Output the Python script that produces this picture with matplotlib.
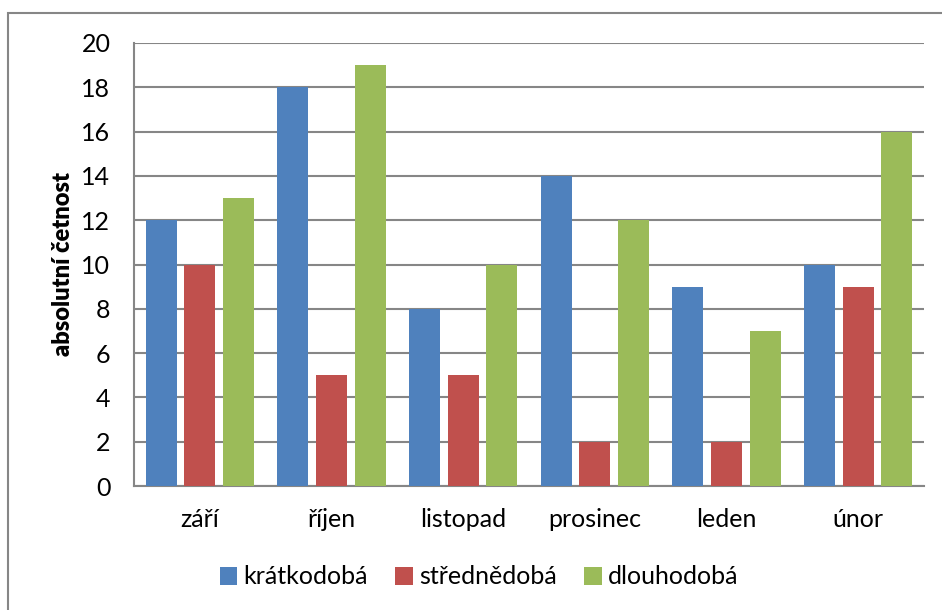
import numpy as np
import matplotlib.pyplot as plt
from matplotlib.patches import Rectangle

plt.rcParams['font.family'] = ['Lato', 'DejaVu Sans']

# monthly counts for each duration type
months = ['září', 'říjen', 'listopad', 'prosinec', 'leden', 'únor']
kratkodoba = [12, 18, 8, 14, 9, 10]
strednedoba = [10, 5, 5, 2, 2, 9]
dlouhodoba = [13, 19, 10, 12, 7, 16]
series_names = ['krátkodobá', 'střednědobá', 'dlouhodobá']
colors = ['#4F81BD', '#C0504D', '#9BBB59']

fig = plt.figure(figsize=(9.42, 6.1), dpi=100)
ax = fig.add_axes([134 / 942, 1 - 486 / 610, (924 - 134) / 942, (486 - 43) / 610])

# outer chart frame (runs off the right/bottom edge)
fig.patches.append(Rectangle((8 / 942, -0.2), 1.2, (610 - 13) / 610 + 0.2,
                             transform=fig.transFigure, fill=False,
                             edgecolor='#868686', linewidth=1.5, zorder=0))

x = np.arange(len(months))
w = 1 / 4.25          # gap width 75 %, overlap -25 %
step = 1.25 * w
for i, (vals, name) in enumerate(zip([kratkodoba, strednedoba, dlouhodoba], series_names)):
    ax.bar(x + (i - 1) * step, vals, width=w, color=colors[i], label=name, zorder=3)

ax.set_xlim(-0.5, len(months) - 0.5)
ax.set_ylim(0, 20)
ax.set_yticks(range(0, 21, 2))
ax.set_xticks(x)
ax.set_xticklabels(months)
ax.tick_params(length=0, labelsize=18, colors='black')
ax.tick_params(axis='y', pad=17)
ax.tick_params(axis='x', pad=16)

ax.grid(axis='y', color='#868686', linewidth=1.5, zorder=0)
for side in ['top', 'right']:
    ax.spines[side].set_visible(False)
for side in ['left', 'bottom']:
    ax.spines[side].set_color('#868686')
    ax.spines[side].set_linewidth(1.5)

ax.set_ylabel('absolutní četnost', fontsize=17, fontweight='heavy', labelpad=5)

fig.legend(loc='center', bbox_to_anchor=(479 / 942, 1 - 577 / 610), ncol=3,
           frameon=False, fontsize=18, handlelength=0.7, handleheight=0.7,
           handletextpad=0.25, columnspacing=1.1)

fig.savefig('out.png', dpi=100)
